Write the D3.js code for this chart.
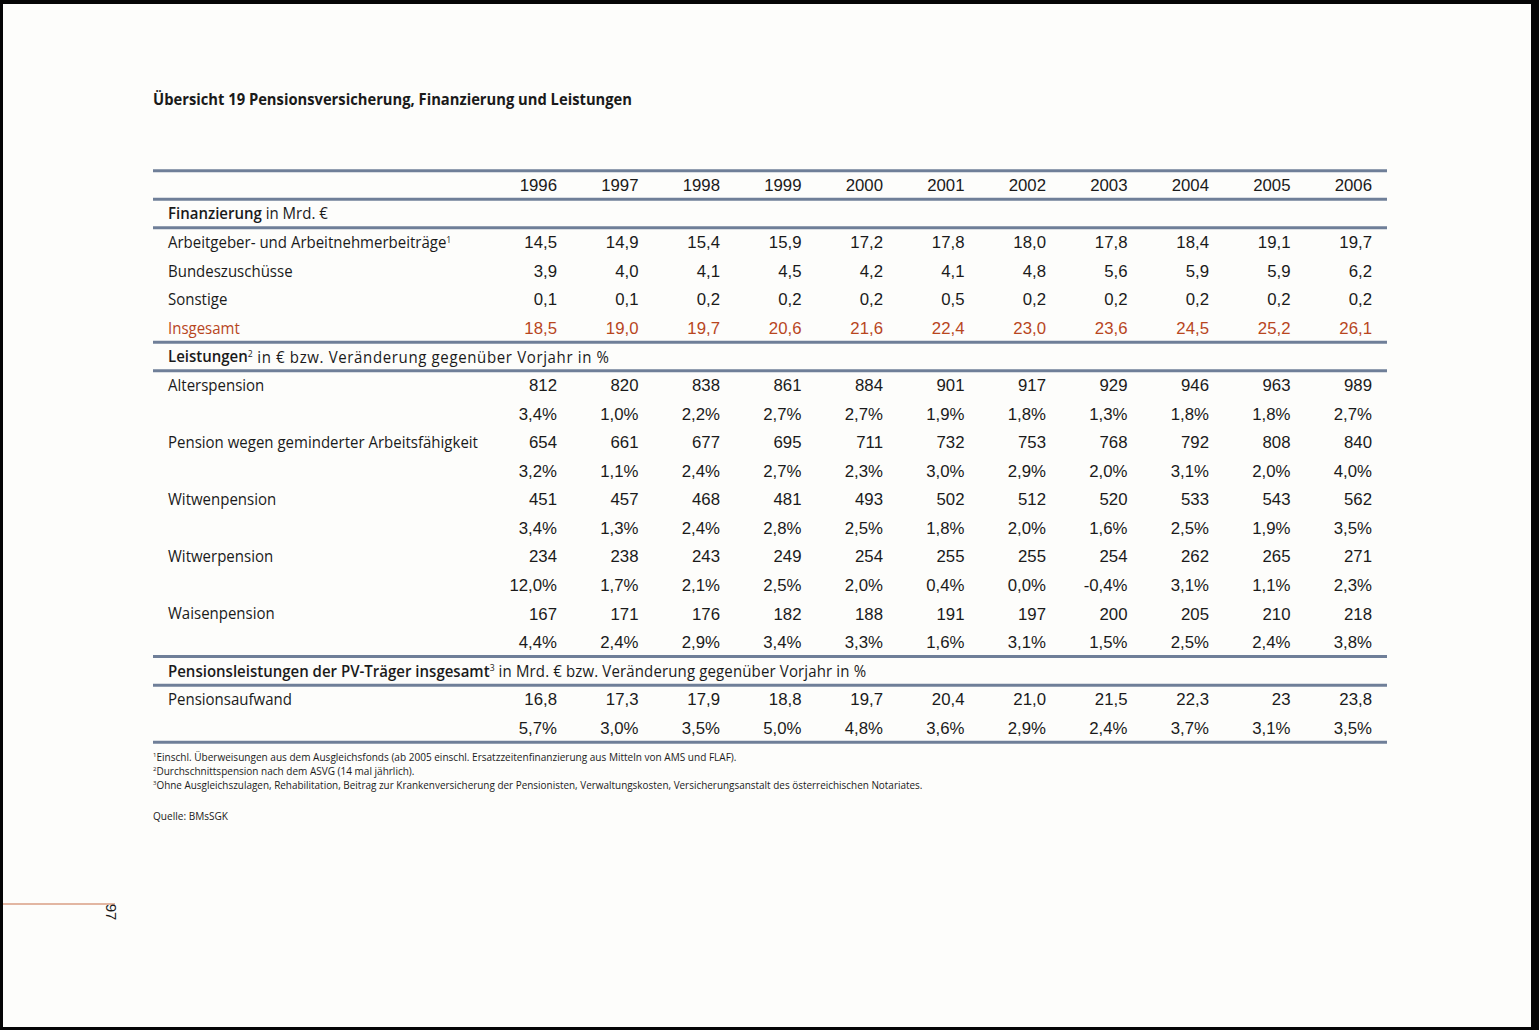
<!DOCTYPE html>
<html><head><meta charset="utf-8">
<script src="https://cdn.jsdelivr.net/npm/d3@7"></script>
<style>
html,body{margin:0;padding:0;background:#000;}
svg{display:block;}
</style></head>
<body>
<script>
const years = [1996,1997,1998,1999,2000,2001,2002,2003,2004,2005,2006];

const beitraege = [14.5,14.9,15.4,15.9,17.2,17.8,18.0,17.8,18.4,19.1,19.7];
const bundeszuschuesse = [3.9,4.0,4.1,4.5,4.2,4.1,4.8,5.6,5.9,5.9,6.2];
const sonstige = [0.1,0.1,0.2,0.2,0.2,0.5,0.2,0.2,0.2,0.2,0.2];
const insgesamt = [18.5,19.0,19.7,20.6,21.6,22.4,23.0,23.6,24.5,25.2,26.1];

const alterspension = [812,820,838,861,884,901,917,929,946,963,989];
const alterspensionPct = [3.4,1.0,2.2,2.7,2.7,1.9,1.8,1.3,1.8,1.8,2.7];
const geminderte = [654,661,677,695,711,732,753,768,792,808,840];
const gemindertePct = [3.2,1.1,2.4,2.7,2.3,3.0,2.9,2.0,3.1,2.0,4.0];
const witwenpension = [451,457,468,481,493,502,512,520,533,543,562];
const witwenpensionPct = [3.4,1.3,2.4,2.8,2.5,1.8,2.0,1.6,2.5,1.9,3.5];
const witwerpension = [234,238,243,249,254,255,255,254,262,265,271];
const witwerpensionPct = [12.0,1.7,2.1,2.5,2.0,0.4,0.0,-0.4,3.1,1.1,2.3];
const waisenpension = [167,171,176,182,188,191,197,200,205,210,218];
const waisenpensionPct = [4.4,2.4,2.9,3.4,3.3,1.6,3.1,1.5,2.5,2.4,3.8];

const pensionsaufwand = ["16,8","17,3","17,9","18,8","19,7","20,4","21,0","21,5","22,3","23","23,8"];
const pensionsaufwandPct = [5.7,3.0,3.5,5.0,4.8,3.6,2.9,2.4,3.7,3.1,3.5];

const titleText = "Übersicht 19 Pensionsversicherung, Finanzierung und Leistungen";
const footnotes = [
  {sup:"1", text:"Einschl. Überweisungen aus dem Ausgleichsfonds (ab 2005 einschl. Ersatzzeitenfinanzierung aus Mitteln von AMS und FLAF)."},
  {sup:"2", text:"Durchschnittspension nach dem ASVG (14 mal jährlich)."},
  {sup:"3", text:"Ohne Ausgleichszulagen, Rehabilitation, Beitrag zur Krankenversicherung der Pensionisten, Verwaltungskosten,  Versicherungsanstalt des österreichischen Notariates."}
];
const sourceText = "Quelle: BMsSGK";

const fmt1 = v => d3.format(".1f")(v).replace(".", ",").replace("−","-");
const fmtInt = v => String(v);
const fmtPct = v => fmt1(v) + "%";

const rows = [
  {type:"header"},
  {type:"section", bold:"Finanzierung", sup:"", rest:" in Mrd. €"},
  {type:"data", label:"Arbeitgeber- und Arbeitnehmerbeiträge", sup:"1", values:beitraege, f:fmt1},
  {type:"data", label:"Bundeszuschüsse", values:bundeszuschuesse, f:fmt1},
  {type:"data", label:"Sonstige", values:sonstige, f:fmt1},
  {type:"data", label:"Insgesamt", values:insgesamt, f:fmt1, red:true},
  {type:"section", bold:"Leistungen", sup:"2", rest:" in € bzw. Veränderung gegenüber Vorjahr in %", spacing:0.7},
  {type:"data", label:"Alterspension", values:alterspension, f:fmtInt},
  {type:"data", label:"", values:alterspensionPct, f:fmtPct},
  {type:"data", label:"Pension wegen geminderter Arbeitsfähigkeit", values:geminderte, f:fmtInt},
  {type:"data", label:"", values:gemindertePct, f:fmtPct},
  {type:"data", label:"Witwenpension", values:witwenpension, f:fmtInt},
  {type:"data", label:"", values:witwenpensionPct, f:fmtPct},
  {type:"data", label:"Witwerpension", values:witwerpension, f:fmtInt},
  {type:"data", label:"", values:witwerpensionPct, f:fmtPct},
  {type:"data", label:"Waisenpension", values:waisenpension, f:fmtInt},
  {type:"data", label:"", values:waisenpensionPct, f:fmtPct},
  {type:"section", bold:"Pensionsleistungen der PV-Träger insgesamt", sup:"3", rest:" in Mrd. € bzw. Veränderung gegenüber Vorjahr in %", spacing:0.15},
  {type:"data", label:"Pensionsaufwand", values:pensionsaufwand, f:v=>v},
  {type:"data", label:"", values:pensionsaufwandPct, f:fmtPct}
];
const ruleAfter = [-1,0,1,5,6,16,17,19];

const W = 1539, H = 1030;
const svg = d3.select("body").append("svg").attr("width",W).attr("height",H);

svg.append("rect").attr("x",0).attr("y",0).attr("width",W).attr("height",H).attr("fill","#050505");
svg.append("rect").attr("x",3).attr("y",4).attr("width",1528).attr("height",1023).attr("fill","#fdfdfb");

const labelFont = "'Open Sans', 'Noto Sans', sans-serif";
const numFont = "'Liberation Sans', Arial, sans-serif";
const textColor = "#1a1a1a";
const redColor = "#b8461e";
const ruleColor = "#6f7f98";
const labelSize = 16.5, numSize = 16.8, squeeze = 0.91;

const left = 153, right = 1387, labelX = 168;
const x = d3.scalePoint().domain(years).range([557, 1372]);
const y = d3.scaleLinear().domain([0, rows.length - 1]).range([185, 728]);
const step = y(1) - y(0);

svg.append("text").attr("x",left).attr("y",99).attr("dy","0.35em")
  .attr("font-family",labelFont).attr("font-weight",700).attr("font-size",16.5)
  .attr("fill",textColor).attr("textLength",479).attr("lengthAdjust","spacingAndGlyphs")
  .text(titleText);

svg.append("g").selectAll("line").data(ruleAfter).join("line")
  .attr("x1",left).attr("x2",right)
  .attr("y1",d=>y(d)+step/2).attr("y2",d=>y(d)+step/2)
  .attr("stroke",ruleColor).attr("stroke-width",3);

svg.append("g").selectAll("text").data(years).join("text")
  .attr("x",d=>x(d)).attr("y",y(0)).attr("dy","0.35em").attr("text-anchor","end")
  .attr("font-family",numFont).attr("font-size",numSize).attr("fill",textColor)
  .text(d=>d);

rows.forEach((r,i)=>{
  if (r.type==="section") {
    const t = svg.append("text").attr("transform",`translate(${labelX},${y(i)}) scale(${squeeze},1)`).attr("dy","0.35em")
      .attr("font-family",labelFont).attr("font-size",labelSize).attr("fill",textColor);
    t.append("tspan").attr("font-weight",600).text(r.bold);
    if (r.sup) t.append("tspan").attr("font-size",9.5).attr("dy","-0.55em").text(r.sup);
    t.append("tspan").attr("dy", r.sup ? "0.35em" : null).attr("letter-spacing", r.spacing || 0).text(r.rest);
  } else if (r.type==="data") {
    const col = r.red ? redColor : textColor;
    if (r.label) {
      const t = svg.append("text").attr("transform",`translate(${labelX},${y(i)}) scale(${squeeze},1)`).attr("dy","0.35em")
        .attr("font-family",labelFont).attr("font-size",labelSize).attr("fill",col);
      t.append("tspan").text(r.label);
      if (r.sup) t.append("tspan").attr("font-size",9.5).attr("dy","-0.55em").text(r.sup);
    }
    svg.append("g").selectAll("text").data(r.values).join("text")
      .attr("x",(d,j)=>x(years[j])).attr("y",y(i)).attr("dy","0.35em").attr("text-anchor","end")
      .attr("font-family",numFont).attr("font-size",numSize).attr("fill",col)
      .text(d=>r.f(d));
  }
});

const fnWidths = [584, 262, 770];
const fnY = [759, 773, 787];
footnotes.forEach((fn,i)=>{
  const t = svg.append("text").attr("x",left).attr("y",fnY[i]).attr("dy","0.35em")
    .attr("font-family",labelFont).attr("font-size",10.5).attr("fill",textColor);
  t.append("tspan").attr("font-size",6).attr("dy","-0.4em").text(fn.sup);
  t.append("tspan").attr("dy","0.4em").attr("textLength",fnWidths[i]-4).attr("lengthAdjust","spacingAndGlyphs").text(fn.text);
});
svg.append("text").attr("x",left).attr("y",816).attr("dy","0.35em")
  .attr("font-family",labelFont).attr("font-size",10.5).attr("fill",textColor)
  .attr("textLength",75).attr("lengthAdjust","spacingAndGlyphs").text(sourceText);

svg.append("line").attr("x1",3).attr("x2",115).attr("y1",904).attr("y2",904)
  .attr("stroke","#c8704a").attr("stroke-width",1.2);
svg.append("text").attr("transform","translate(111,912) rotate(90)")
  .attr("text-anchor","middle").attr("dy","0.35em")
  .attr("font-family",numFont).attr("font-size",15).attr("fill",textColor).text("97");
</script>
</body></html>
